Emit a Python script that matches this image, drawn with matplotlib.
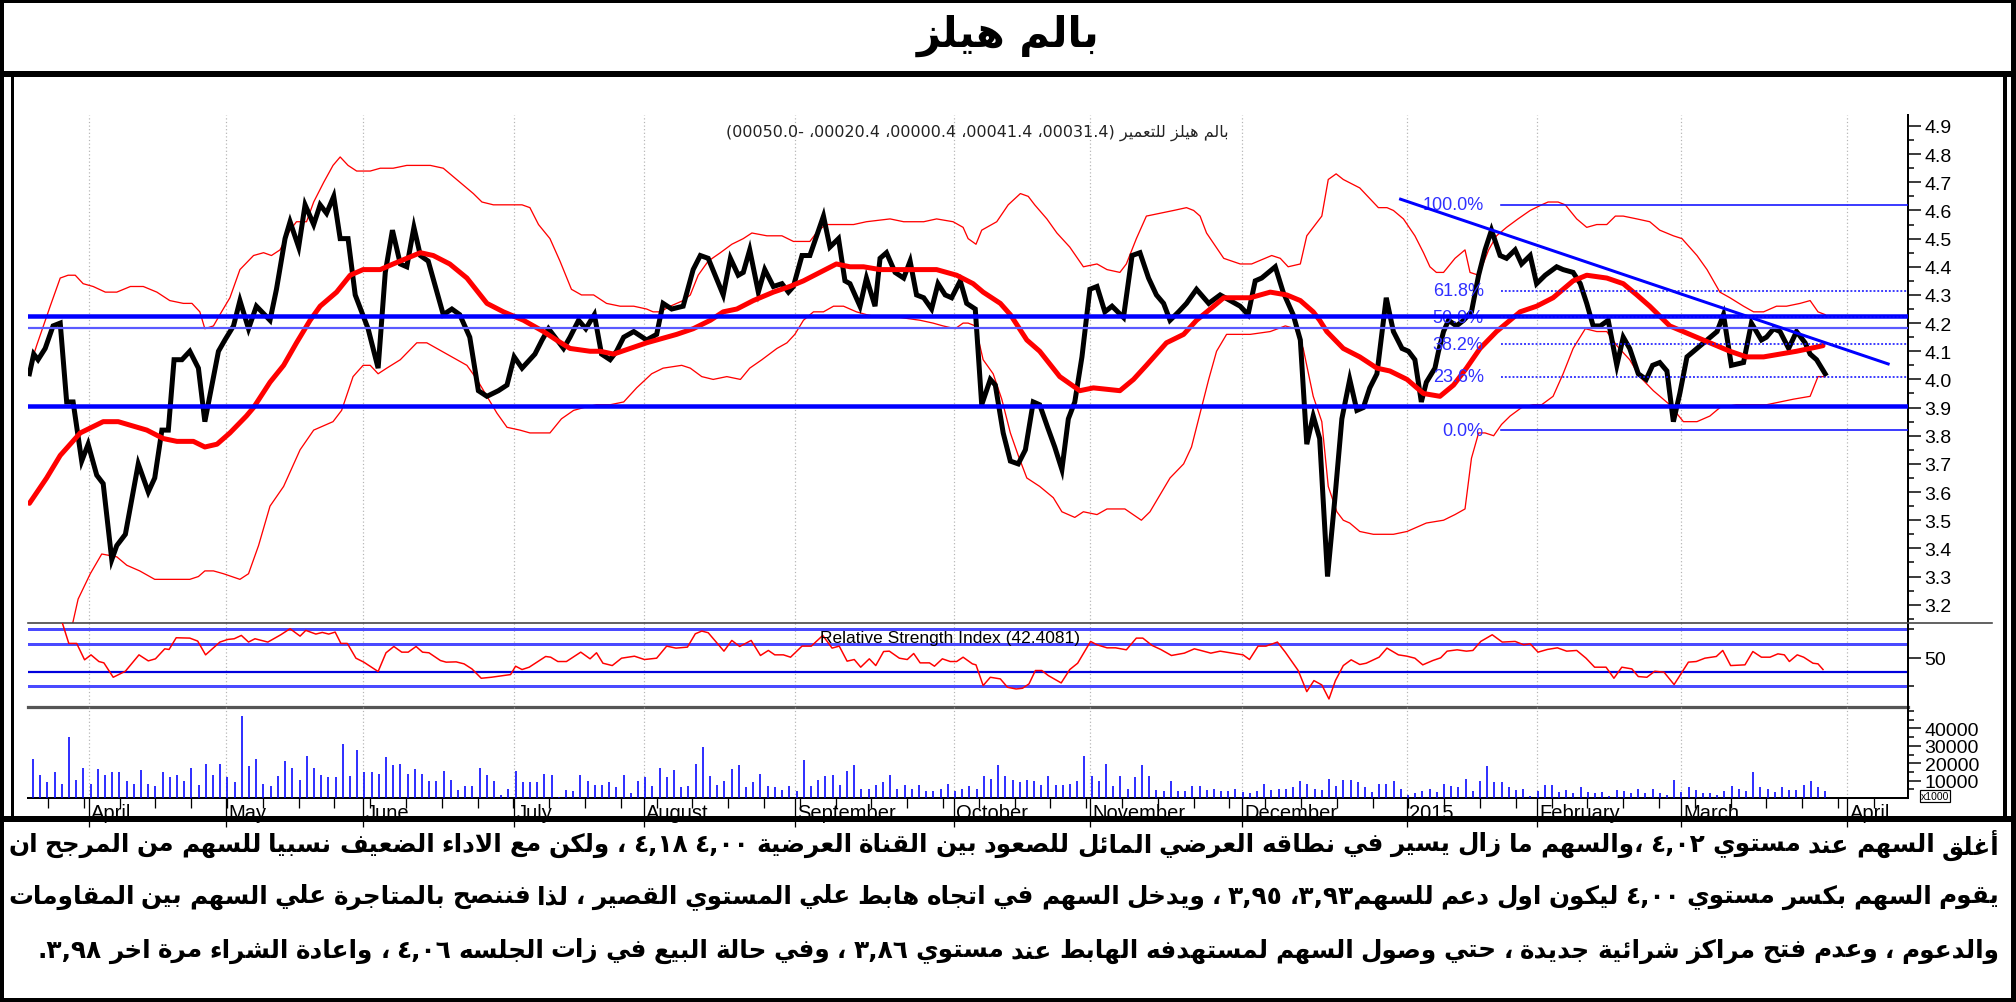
import numpy as np
import matplotlib
matplotlib.use("Agg")
import matplotlib.pyplot as plt
import matplotlib.transforms as mtransforms
from matplotlib.lines import Line2D

# ======================= DATA =======================
# x unit: trading-day index (0 = first session shown, late March 2014)
price_day = [0.2, 0.8, 1.4, 2.4, 3.5, 4.5, 5.4, 6.3, 7.5, 8.4, 9.6, 10.5, 11.7, 12.4, 13.6, 15.4, 16.8, 17.7,
             18.7, 19.6, 20.4, 21.5, 22.6, 23.8, 24.7, 26.6, 27.5, 28.7, 29.6, 30.8, 31.9, 33.8, 34.7, 35.9,
             36.6, 37.8, 38.7, 39.9, 40.8, 41.7, 42.7, 43.6, 44.7, 45.7, 47.5, 48.9, 49.9, 50.9, 52.0, 52.9,
             53.9, 54.8, 55.9, 58.0, 59.2, 60.3, 61.7, 62.9, 64.1,
             65.7, 66.9, 67.9, 69.0, 70.8, 71.8, 72.7, 73.6, 74.8, 75.7, 76.9, 77.9, 79.1, 80.1, 81.3, 82.2,
             83.2, 84.6, 86.4, 87.8, 88.7, 89.9, 91.5, 92.9, 93.9, 95.0, 97.1, 98.1, 99.2, 99.9, 100.8, 102.0,
             102.9, 104.1, 105.3, 106.2, 106.9, 108.1, 109.2, 111.1, 112.0, 113.2, 114.1, 114.8, 116.2, 117.1,
             118.3, 119.0, 119.9, 121.1, 122.3, 123.2, 124.1, 125.1, 126.2, 127.1, 128.1, 129.0, 130.2,
             131.1, 132.3, 133.2, 134.4, 135.1, 136.2, 137.2, 138.3, 139.3, 140.4, 141.3, 142.4, 143.4, 144.4,
             145.3, 146.2, 147.2, 148.3, 149.3, 150.4, 151.4, 153.0, 154.2, 155.3, 156.5, 157.6, 158.6, 159.5,
             160.7, 161.8, 163.2, 164.9, 166.5, 167.9, 169.3, 170.4, 171.4, 172.3, 174.2, 175.3, 176.7, 177.7,
             178.6, 179.5, 180.4, 181.5, 182.5, 183.5, 184.6, 185.6, 186.5, 187.4, 188.4, 189.7, 190.7, 191.9,
             192.8, 193.7, 194.6, 195.3,
             196.5, 197.0, 197.7, 198.4, 199.5, 200.5, 201.6, 202.6, 203.5, 204.4, 205.6, 206.5, 207.7, 208.6,
             209.8, 210.7, 211.9, 213.5, 214.4, 215.8, 216.8, 217.7, 218.6, 219.6, 220.7, 221.9, 222.8, 223.7,
             224.9, 226.0, 226.9, 227.9, 228.9, 229.8, 230.7, 231.7, 233.1, 234.5, 235.9, 236.8, 237.9, 239.6,
             240.7, 242.1, 242.8, 243.8, 244.7, 245.9, 247.0, 248.2, 248.9, 249.8, 251.0]
price_close = [4.02, 4.09, 4.07, 4.11, 4.19, 4.20, 3.92, 3.92, 3.71, 3.77, 3.66, 3.63, 3.36, 3.41, 3.45, 3.70,
               3.60, 3.65, 3.82, 3.82, 4.07, 4.07, 4.10, 4.04, 3.85, 4.10, 4.14, 4.19, 4.28, 4.18, 4.26, 4.21,
               4.32, 4.50, 4.56, 4.47, 4.62, 4.55, 4.62, 4.59, 4.65, 4.50, 4.50, 4.30, 4.18, 4.04, 4.38, 4.53,
               4.41, 4.40, 4.54, 4.44, 4.42, 4.23, 4.25, 4.23, 4.15, 3.96, 3.94,
               3.96, 3.98, 4.08, 4.04, 4.09, 4.14, 4.18, 4.15, 4.11, 4.15, 4.21, 4.18, 4.23, 4.09, 4.07, 4.10,
               4.15, 4.17, 4.14, 4.16, 4.27, 4.25, 4.26, 4.39, 4.44, 4.43, 4.30, 4.43, 4.37, 4.38, 4.46, 4.31,
               4.39, 4.33, 4.34, 4.31, 4.33, 4.44, 4.44, 4.58, 4.47, 4.50, 4.35, 4.34, 4.26, 4.36, 4.26, 4.43,
               4.45, 4.38, 4.36, 4.42, 4.30, 4.29, 4.25, 4.34, 4.30, 4.29, 4.35,
               4.27, 4.25, 3.91, 4.00, 3.98, 3.81, 3.71, 3.70, 3.75, 3.92, 3.91, 3.83, 3.76, 3.68, 3.86, 3.92,
               4.08, 4.32, 4.33, 4.24, 4.26, 4.22, 4.44, 4.45, 4.36, 4.30, 4.27, 4.21, 4.24, 4.27, 4.32, 4.27,
               4.30, 4.28, 4.26, 4.23, 4.35, 4.36, 4.40, 4.31, 4.23, 4.14, 3.77, 3.87, 3.79, 3.30, 3.57, 3.86,
               4.00, 3.89, 3.90, 3.97, 4.02, 4.29, 4.17, 4.11, 4.10, 4.07, 3.92, 3.99,
               4.04, 4.10, 4.17, 4.21, 4.19, 4.21, 4.24, 4.37, 4.46, 4.53, 4.44, 4.43, 4.46, 4.41, 4.44, 4.34,
               4.37, 4.40, 4.39, 4.38, 4.34, 4.27, 4.19, 4.19, 4.21, 4.05, 4.15, 4.11, 4.02, 4.00, 4.05, 4.06,
               4.03, 3.85, 3.95, 4.08, 4.11, 4.14, 4.17, 4.23, 4.05, 4.06, 4.20, 4.14, 4.15, 4.18, 4.17, 4.11,
               4.17, 4.13, 4.09, 4.07, 4.02]

ma_day = [0.2, 2.6, 4.5, 7.3, 10.5, 12.6, 16.6, 18.9, 20.8, 23.1, 24.7, 26.4, 28.2, 30.5, 31.5, 33.8, 35.7,
          37.5, 39.4, 40.8, 43.1, 45.0, 46.8, 49.2, 51.0, 52.9, 54.8, 56.6, 58.9, 61.3, 64.1,
          66.4, 69.2, 72.0, 73.8, 75.7, 78.5, 79.9, 81.8, 84.1, 86.4, 87.8, 90.6, 92.9, 95.3, 97.1, 99.0,
          101.3, 104.1, 106.4, 108.3, 110.6, 112.9, 114.8, 116.7, 119.0, 121.3, 124.1, 126.9, 129.7,
          132.0, 133.4, 135.8, 137.2, 139.5, 141.3, 144.1, 146.9, 148.8, 152.5, 154.4, 156.2, 159.0, 161.4,
          163.2, 165.6, 167.0, 170.7, 173.5, 175.8, 177.7, 179.5, 180.4, 181.4, 183.7, 186.0, 188.4, 190.2,
          192.6, 194.9,
          197.2, 199.1, 200.9, 202.8, 205.1, 208.4, 210.7, 213.0, 215.8, 217.7, 220.5, 222.8, 224.7, 226.5,
          229.3, 232.1, 234.9, 237.7, 240.0, 242.4, 244.7, 247.0, 248.9, 250.7]
ma_val = [3.56, 3.65, 3.73, 3.81, 3.85, 3.85, 3.82, 3.79, 3.78, 3.78, 3.76, 3.77, 3.81, 3.87, 3.90, 3.99, 4.05,
          4.13, 4.21, 4.26, 4.31, 4.37, 4.39, 4.39, 4.41, 4.43, 4.45, 4.44, 4.41, 4.36, 4.27,
          4.24, 4.21, 4.17, 4.14, 4.11, 4.10, 4.10, 4.09, 4.11, 4.13, 4.14, 4.16, 4.18, 4.21, 4.24, 4.25,
          4.28, 4.31, 4.33, 4.35, 4.38, 4.41, 4.40, 4.40, 4.39, 4.39, 4.39, 4.39, 4.37,
          4.34, 4.31, 4.27, 4.23, 4.14, 4.10, 4.01, 3.96, 3.97, 3.96, 4.00, 4.05, 4.13, 4.16,
          4.21, 4.26, 4.29, 4.29, 4.31, 4.30, 4.28, 4.24, 4.21, 4.17, 4.11, 4.08, 4.04, 4.03,
          4.00, 3.95,
          3.94, 3.98, 4.04, 4.11, 4.17, 4.24, 4.26, 4.29, 4.35, 4.37, 4.36, 4.34, 4.30, 4.26,
          4.19, 4.16, 4.13, 4.10, 4.08, 4.08, 4.09, 4.10, 4.11, 4.12]

bb_up_day = [0.2, 1.2, 3.1, 4.5, 5.6, 6.6, 7.7, 9.1, 10.8, 12.4, 14.3, 16.1, 18.0, 19.8, 21.7, 22.9, 24.0, 24.7,
             25.9, 26.8, 28.2, 29.6, 31.5, 32.9, 34.0, 35.2, 36.6, 37.5, 38.9, 39.9, 41.3, 42.6, 43.6, 44.7,
             45.9, 47.8, 49.2, 51.0, 52.9, 54.3, 56.2, 58.0, 59.4, 60.8, 62.2, 63.4, 65.0,
             65.9, 67.8, 69.0, 70.1, 71.3, 72.9, 74.3, 75.9, 77.3, 79.0, 80.8, 82.7, 84.6, 86.4, 87.3, 88.3,
             89.7, 91.5, 92.5, 93.6, 95.0, 96.7, 98.3, 99.9, 101.1, 103.2, 105.3, 106.9, 108.3, 109.2, 110.4,
             111.5, 113.4, 115.3, 117.1, 120.4, 122.3, 125.1, 126.9, 129.2, 130.6,
             131.3, 132.4, 133.2, 135.3, 136.9, 138.6, 139.7, 140.6, 142.3, 143.7, 145.5, 147.4, 149.3, 150.7,
             152.5, 153.4, 154.8, 156.2, 158.1, 160.0, 161.8, 162.8, 163.7, 164.6, 167.0, 169.3, 170.9, 173.7,
             174.9, 176.0, 177.7, 178.6, 180.7, 181.6, 182.7, 183.7, 186.0, 188.6, 189.8, 190.7, 192.1, 193.7,
             194.9, 195.8,
             196.7, 197.7, 199.3, 200.7, 201.4, 202.6, 204.0, 205.1, 206.5, 208.1, 209.8, 211.4, 212.3, 213.7,
             214.7, 216.3, 217.7, 219.1, 220.5, 221.7, 222.8, 224.7, 226.5, 227.9, 229.8, 231.0, 233.1, 234.5,
             236.3, 237.7, 239.6, 241.0, 242.4, 244.2, 245.6, 247.5, 248.9, 250.0, 251.0]
bb_up_val = [4.04, 4.12, 4.26, 4.36, 4.37, 4.37, 4.34, 4.33, 4.31, 4.31, 4.33, 4.33, 4.31, 4.28, 4.27, 4.27,
             4.24, 4.18, 4.19, 4.23, 4.29, 4.39, 4.44, 4.45, 4.44, 4.46, 4.53, 4.56, 4.56, 4.63, 4.70, 4.76,
             4.79, 4.76, 4.74, 4.74, 4.75, 4.75, 4.76, 4.76, 4.76, 4.75, 4.72, 4.69, 4.66, 4.63, 4.62,
             4.62, 4.62, 4.62, 4.61, 4.55, 4.50, 4.42, 4.32, 4.30, 4.30, 4.27, 4.26, 4.26, 4.25, 4.24, 4.24,
             4.26, 4.28, 4.30, 4.37, 4.42, 4.45, 4.48, 4.50, 4.52, 4.51, 4.51, 4.49, 4.49, 4.49, 4.53,
             4.55, 4.55, 4.55, 4.56, 4.57, 4.56, 4.56, 4.57, 4.56, 4.54,
             4.50, 4.48, 4.53, 4.56, 4.62, 4.66, 4.65, 4.62, 4.57, 4.52, 4.47, 4.40, 4.41, 4.39,
             4.38, 4.41, 4.50, 4.58, 4.59, 4.60, 4.61, 4.60, 4.58, 4.52, 4.43, 4.41, 4.41, 4.44,
             4.43, 4.40, 4.41, 4.51, 4.58, 4.71, 4.73, 4.71, 4.68, 4.61, 4.61, 4.60, 4.57, 4.51,
             4.45, 4.40,
             4.38, 4.38, 4.43, 4.46, 4.38, 4.37, 4.46, 4.51, 4.54, 4.57, 4.60, 4.62, 4.63, 4.63,
             4.62, 4.57, 4.54, 4.55, 4.55, 4.58, 4.58, 4.57, 4.56, 4.53, 4.51, 4.50, 4.44, 4.39,
             4.31, 4.29, 4.26, 4.24, 4.24, 4.26, 4.26, 4.27, 4.28, 4.24, 4.23]

bb_lo_day = [5.5, 7.0, 8.7, 10.3, 12.4, 13.8, 15.6, 17.7, 19.8, 22.6, 23.8, 24.7, 25.9, 27.3, 29.6, 30.8, 32.2,
             33.8, 35.7, 38.0, 39.9, 42.6, 43.8, 45.4, 46.8, 47.8, 48.9, 50.1, 52.0, 54.3, 55.7, 57.1, 58.5,
             61.3, 62.7, 64.1,
             65.5, 66.9, 68.7, 70.1, 71.5, 72.9, 74.5, 76.2, 77.6, 79.4, 81.3, 83.2, 85.0, 87.1, 88.7, 91.3,
             92.5, 94.1, 95.7, 97.6, 99.5, 100.8, 102.5, 104.6, 106.0, 107.1, 108.3, 109.7, 111.1, 112.5,
             113.9, 115.7, 117.1, 119.0, 121.8, 124.6, 126.4, 127.8, 129.5, 130.6,
             131.3, 132.3, 133.4, 134.8, 136.0, 137.2, 138.3, 139.5, 141.3, 143.2, 144.4, 146.2, 147.4, 149.3,
             150.7, 153.2, 155.5, 156.7, 158.1, 159.5, 161.4, 162.5, 163.7, 164.9, 166.0, 167.4, 169.3, 170.7,
             173.5, 175.6, 177.0, 178.1, 179.5, 180.7, 181.6, 182.8, 183.7, 184.6, 186.0, 187.9, 190.7, 192.6,
             195.3,
             197.7, 199.3, 200.7, 201.6, 202.6, 203.5, 204.7, 205.8, 207.0, 208.6, 210.2, 211.4, 213.0, 214.4,
             215.8, 217.5, 219.1, 220.5, 221.9, 223.7, 225.1, 227.0, 229.3, 231.2, 233.1, 234.9, 236.3, 238.6,
             241.0, 242.8, 244.7, 246.6, 248.9, 250.0, 251.0]
bb_lo_val = [3.05, 3.22, 3.31, 3.38, 3.37, 3.34, 3.32, 3.29, 3.29, 3.29, 3.30, 3.32, 3.32, 3.31, 3.29, 3.31,
             3.41, 3.55, 3.62, 3.75, 3.82, 3.85, 3.89, 4.01, 4.05, 4.05, 4.02, 4.04, 4.07, 4.13, 4.13, 4.11,
             4.09, 4.05, 4.00, 3.94,
             3.88, 3.83, 3.82, 3.81, 3.81, 3.81, 3.86, 3.89, 3.90, 3.91, 3.91, 3.92, 3.97, 4.02, 4.04, 4.05,
             4.04, 4.01, 4.00, 4.01, 4.00, 4.04, 4.07, 4.11, 4.13, 4.16, 4.21, 4.24, 4.24, 4.26,
             4.26, 4.24, 4.23, 4.22, 4.22, 4.21, 4.20, 4.19, 4.18, 4.20,
             4.20, 4.19, 4.07, 4.02, 3.93, 3.81, 3.73, 3.65, 3.62, 3.58, 3.53, 3.51, 3.53, 3.52,
             3.54, 3.54, 3.50, 3.53, 3.59, 3.65, 3.70, 3.76, 3.88, 4.00, 4.10, 4.16, 4.16, 4.16,
             4.17, 4.19, 4.18, 4.11, 3.94, 3.85, 3.62, 3.53, 3.50, 3.49, 3.46, 3.45, 3.45, 3.46,
             3.49,
             3.50, 3.52, 3.54, 3.72, 3.81, 3.81, 3.80, 3.84, 3.87, 3.90, 3.91, 3.91, 3.94, 4.02,
             4.11, 4.18, 4.17, 4.17, 4.12, 4.07, 4.01, 3.96, 3.91, 3.85, 3.85, 3.87, 3.90, 3.91,
             3.91, 3.91, 3.92, 3.93, 3.94, 4.01, 4.01]

rsi_day = [4.8, 5.7, 6.8, 7.9, 8.8, 9.9, 10.6, 11.9, 13.6, 15.5, 16.8, 17.8, 19.1, 19.7, 20.7, 22.6, 23.7, 24.8,
           26.8, 27.9, 28.8, 29.8, 30.8, 31.7, 33.5, 35.3, 36.6, 38.0, 38.8, 40.2, 41.1, 42.0, 42.9, 43.7, 44.6,
           45.8, 46.9, 48.9, 50.0, 51.1, 52.2, 53.1, 54.2, 55.1, 56.0, 57.6, 58.4, 59.8, 60.9, 62.0, 63.3, 64.7,
           67.4, 68.1, 69.0, 70.0, 72.3, 73.0, 74.0, 75.2, 77.2, 78.5, 79.4, 80.3, 81.6, 82.9, 84.7, 86.1, 87.8,
           89.2, 90.5, 92.1, 93.2, 94.1, 95.0, 97.2, 98.3, 99.4, 101.0, 102.3, 103.4, 104.3, 105.5, 106.5,
           108.1, 109.4, 111.0, 112.3, 113.3, 114.4, 115.4, 116.3, 117.5, 118.4, 119.5, 120.3, 121.7, 122.8,
           123.7, 124.6, 125.9, 126.6, 127.7, 128.8, 129.7, 130.6, 131.9, 132.4, 133.4, 134.4, 135.8,
           136.8, 138.0, 138.9, 139.8, 140.7, 141.6, 142.5, 144.3, 145.5, 146.6, 148.4, 149.3, 150.7, 151.9,
           153.4, 154.8, 155.7, 157.0, 158.2, 159.7, 161.5, 162.9, 163.8, 165.2, 166.5, 167.9, 169.7, 170.6,
           171.8, 172.9, 174.5, 175.6, 177.4, 178.6, 179.6, 180.7, 181.7, 182.6, 183.7, 184.8, 186.0, 186.9,
           188.7, 189.8, 191.4, 192.6, 193.7, 194.8, 196.2, 197.3, 198.2, 199.6, 200.9, 201.8, 202.9, 204.5,
           205.9, 207.7, 208.9, 209.8, 210.9, 212.2, 213.6, 214.9, 216.3, 217.6, 218.8, 220.4, 221.5, 222.6,
           224.0, 224.9, 226.1, 227.2, 228.5, 229.9, 231.9, 233.0, 234.2, 235.8, 236.7, 237.8, 239.8, 240.9,
           242.1, 243.3, 244.4, 245.3, 246.0, 247.1, 248.0, 249.3, 250.0, 250.7]
rsi_val = [99.0, 70.3, 70.3, 47.2, 54.2, 44.8, 42.9, 22.6, 31.1, 54.2, 45.7, 48.6, 62.7, 61.8, 78.3, 77.8, 73.6,
           54.2, 72.2, 75.9, 76.9, 81.6, 72.2, 76.9, 72.2, 82.5, 91.0, 80.6, 88.7, 83.5, 85.8, 83.5, 86.3, 70.3,
           70.3, 49.5, 43.9, 30.7, 57.1, 66.0, 58.0, 58.0, 66.0, 58.0, 57.1, 46.2, 43.9, 44.3, 41.5, 34.4, 21.2,
           22.6, 26.4, 38.2, 33.5, 36.8, 51.9, 50.9, 44.8, 44.8, 58.0, 48.6, 57.1, 42.4, 39.1, 49.5, 52.3, 47.6,
           49.5, 66.5, 63.7, 65.1, 83.9, 87.7, 85.4, 59.4, 74.5, 66.0, 74.5, 53.3, 60.4, 54.2, 54.2, 50.9,
           66.5, 66.5, 81.6, 63.7, 66.5, 45.3, 47.6, 36.8, 48.6, 39.1, 58.9, 59.4, 49.5, 47.6,
           56.1, 42.9, 42.9, 38.2, 48.6, 44.8, 44.8, 50.9, 41.5, 40.1, 10.9, 22.6, 20.3,
           8.5, 6.1, 7.1, 13.2, 32.1, 32.1, 25.0, 14.6, 33.5, 42.4, 73.1, 68.4, 64.1, 64.1,
           61.3, 77.8, 77.8, 67.4, 61.8, 53.3, 56.6, 62.7, 60.4, 56.6, 59.4, 57.1, 54.2, 47.6,
           66.5, 66.5, 72.2, 58.0, 32.1, 2.4, 17.9, 11.8, -8.0, 17.9, 39.1, 47.2, 40.6, 42.4,
           50.9, 63.7, 54.2, 52.3, 49.5, 40.1, 46.2, 50.0, 59.4, 61.3, 59.4, 60.4, 73.1, 82.5,
           72.2, 73.1, 68.4, 69.8, 58.0, 61.8, 64.1, 59.4, 60.4, 49.5, 36.8, 36.8, 21.2, 36.8,
           34.4, 23.6, 22.6, 31.1, 29.7, 12.3, 43.9, 44.8, 49.5, 51.9, 60.4, 39.1, 40.1, 58.9,
           50.9, 50.9, 55.6, 54.2, 44.8, 54.2, 50.9, 42.4, 41.5, 33.5]

# daily volume (x1000 shares), one bar per session
vol_a = [22600, 13400, 9000, 14800, 8200, 34900, 10500, 17400, 8200, 16900, 13400, 14800, 14800, 9800, 8200,
         16100, 8200, 7100, 14800, 11900, 13400, 9800, 17400, 7700, 19700, 13400, 19700, 11900, 9000, 47300,
         18200, 22600, 8200, 7100, 12600, 21100, 17400, 10500, 24000, 17400, 13400, 11900, 11900, 31000,
         12600, 27600, 14800, 14800, 14000, 23400, 19000, 19700, 14000, 16900, 14000, 9800, 9800, 15500,
         10500, 4800, 7100, 7100, 17400, 13400, 9800, 1900, 5400, 15500, 9000, 9000, 9000, 14000, 13400, 600,
         4800, 4000, 13400, 9800, 7700, 7700, 9000, 6100, 13400, 2700, 9800, 11900, 7100, 17400, 11900,
         16100, 6100, 7100, 19700, 29100, 12600, 7700, 9800, 16900, 19000, 6100, 9000, 14000, 6700, 6100,
         4800, 6700, 4000, 21800, 7100, 10500, 12600, 13400, 7700, 15500, 19000, 5400, 5400, 7700, 9000,
         13400, 5400, 7700, 5400, 7700, 4000, 4000, 5400, 8200, 4000, 5400, 6700, 5400, 12600, 11100, 19000]
vol_b = [12800, 10500, 9000, 10500, 9800, 7700, 12800, 7700, 7700, 8200, 9800, 24000, 12800, 9800, 19700,
         7100, 12800, 5400, 11900, 19200, 12800, 4800, 4000, 9800, 4000, 4000, 7100, 7100, 4800, 5400, 4000,
         4000, 5400, 3300, 2700, 4000, 8200, 4800, 5400, 5400, 6100, 9800, 8200, 5400, 4800, 11100, 7100,
         10500, 10500, 9000, 6100, 3300, 8200, 8200, 9800, 5400, 1900, 2700, 4000, 5400, 3300, 8200, 6700,
         6100, 11100, 4000, 9800, 18200, 9000, 9000, 6100, 4800, 5400, 1300, 4000, 7700, 7700, 3300, 4800,
         2700, 6100, 3300, 2700, 3300, 1300, 4800, 4000, 2700, 5400, 2700, 5400, 2700, 1900, 10500, 3300,
         6100, 4800, 2700, 2700, 1900, 4000, 7100, 5400, 4000, 14800, 6100, 5400, 3300, 6100, 4800, 4800,
         7700, 9800, 6100, 4000]
vol_a_days = (0.7, 135.5)     # first / last session of each volume block
vol_b_days = (136.5, 251.0)

month_day = [8.5, 27.7, 46.8, 67.9, 86.0, 107.1, 129.3, 148.3, 169.6, 192.6, 210.8, 230.9, 254.1]
month_label = ["April", "May", "June", "July", "August", "September", "October", "November",
               "December", "2015", "February", "March", "April"]

price_ticks = [3.2, 3.3, 3.4, 3.5, 3.6, 3.7, 3.8, 3.9, 4.0, 4.1, 4.2, 4.3, 4.4, 4.5, 4.6, 4.7, 4.8, 4.9]
resistance_thick = [4.226, 3.904]
resistance_thin = [4.183]
trend_day = [191.7, 259.8]
trend_val = [4.64, 4.055]
fib_high, fib_low = 4.62, 3.82
fib_ratios = [1.0, 0.618, 0.5, 0.382, 0.236, 0.0]
fib_names = ["100.0%", "61.8%", "50.0%", "38.2%", "23.6%", "0.0%"]
fib_start_day = 205.7
rsi_levels = [90, 70, 30, 10]
rsi_last = "42.4081"
vol_ticks = [10000, 20000, 30000, 40000]

title_text = "بالم هيلز"
header_name = "بالم هيلز للتعمير"
header_numbers = "(00050.0- ،00020.4 ،00000.4 ،00041.4 ،00031.4)"
body_lines = [
    "أغلق السهم عند مستوي ٤,٠٢ ،والسهم ما زال يسير في نطاقه العرضي المائل للصعود بين القناة العرضية ٤,٠٠ ٤,١٨ ، ولكن مع الاداء الضعيف نسبيا للسهم من المرجح ان",
    "يقوم السهم بكسر مستوي ٤,٠٠ ليكون اول دعم للسهم٣,٩٣، ٣,٩٥ ، ويدخل السهم في اتجاه هابط علي المستوي القصير ، لذا فننصح بالمتاجرة علي السهم بين المقاومات",
    "والدعوم ، وعدم فتح مراكز شرائية جديدة ، حتي وصول السهم لمستهدفه الهابط عند مستوي ٣,٨٦ ، وفي حالة البيع في زات الجلسه ٤,٠٦ ، واعادة الشراء مرة اخر ٣,٩٨.",
]

# ======================= Arabic shaping / visual order =======================
DUAL = {0x0626: 0xFE89, 0x0628: 0xFE8F, 0x062A: 0xFE95, 0x062B: 0xFE99, 0x062C: 0xFE9D, 0x062D: 0xFEA1,
        0x062E: 0xFEA5, 0x0633: 0xFEB1, 0x0634: 0xFEB5, 0x0635: 0xFEB9, 0x0636: 0xFEBD, 0x0637: 0xFEC1,
        0x0638: 0xFEC5, 0x0639: 0xFEC9, 0x063A: 0xFECD, 0x0641: 0xFED1, 0x0642: 0xFED5, 0x0643: 0xFED9,
        0x0644: 0xFEDD, 0x0645: 0xFEE1, 0x0646: 0xFEE5, 0x0647: 0xFEE9, 0x064A: 0xFEF1}
RIGHT = {0x0622: 0xFE81, 0x0623: 0xFE83, 0x0624: 0xFE85, 0x0625: 0xFE87, 0x0627: 0xFE8D, 0x0629: 0xFE93,
         0x062F: 0xFEA9, 0x0630: 0xFEAB, 0x0631: 0xFEAD, 0x0632: 0xFEAF, 0x0648: 0xFEED, 0x0649: 0xFEEF}
LAMALEF = {0x0622: 0xFEF5, 0x0623: 0xFEF7, 0x0625: 0xFEF9, 0x0627: 0xFEFB}


def shape(s):
    items = []
    i = 0
    while i < len(s):
        c = s[i]
        if ord(c) == 0x0644 and i + 1 < len(s) and ord(s[i + 1]) in LAMALEF:
            items.append(("LA", s[i + 1]))
            i += 2
        else:
            items.append(("C", c))
            i += 1

    def jt(it):
        k, c = it
        if k == "LA":
            return "R"
        o = ord(c)
        if o in DUAL or o == 0x0640:
            return "D"
        if o in RIGHT:
            return "R"
        return "U"

    out = []
    for k, it in enumerate(items):
        t = jt(it)
        pt = jt(items[k - 1]) if k > 0 else "U"
        nt = jt(items[k + 1]) if k + 1 < len(items) else "U"
        jp = t in "DR" and pt == "D"
        jn = t == "D" and nt in "DR"
        kind, c = it
        if kind == "LA":
            out.append(chr(LAMALEF[ord(c)] + (1 if jp else 0)))
            continue
        o = ord(c)
        if o in DUAL:
            b = DUAL[o]
            out.append(chr(b + 3) if (jp and jn) else chr(b + 1) if jp else chr(b + 2) if jn else chr(b))
        elif o in RIGHT:
            b = RIGHT[o]
            out.append(chr(b + 1) if jp else chr(b))
        elif o == 0x0621:
            out.append("\uFE80")
        else:
            out.append(c)
    return "".join(out)


DIGITS = set("0123456789٠١٢٣٤٥٦٧٨٩")
SEPS = set(",.٫٬")
MIRROR = {"(": ")", ")": "("}


def visual(s):
    s = shape(s)
    toks = []
    i = 0
    while i < len(s):
        c = s[i]
        if c in DIGITS:
            j = i
            while j < len(s) and (s[j] in DIGITS or (s[j] in SEPS and j + 1 < len(s) and s[j + 1] in DIGITS)):
                j += 1
            toks.append(s[i:j])
            i = j
        else:
            toks.append(MIRROR.get(c, c))
            i += 1
    return "".join(reversed(toks))


# ======================= FIGURE =======================
W, H = 2016, 1003
plt.rcParams["font.family"] = ["Liberation Sans", "DejaVu Sans"]
fig = plt.figure(figsize=(W / 100, H / 100), dpi=100)
fig.patch.set_facecolor("white")


def px(v):  # pixels -> points
    return v * 72.0 / 100.0


def add_axes_px(left, top, right, bottom):
    return fig.add_axes([left / W, 1 - bottom / H, (right - left) / W, (bottom - top) / H])


X0, X1 = 28, 1908
ax_p = add_axes_px(X0, 116, X1, 624)
ax_r = add_axes_px(X0, 624, X1, 707.7)
ax_v = add_axes_px(X0, 707.7, X1, 799)
XLIM = (0, (X1 - X0) / 7.16)

for ax in (ax_p, ax_r, ax_v):
    ax.set_xlim(*XLIM)
    ax.set_facecolor("none")
    for sp in ("left", "top", "bottom"):
        ax.spines[sp].set_visible(False)
    ax.spines["right"].set_linewidth(px(2))
    ax.yaxis.tick_right()
    ax.tick_params(axis="x", which="both", bottom=False, labelbottom=False)
    for d in month_day:
        ax.axvline(d, color="#b4b4b4", lw=px(1.2), ls=(0, (1, 2)), zorder=0)

# ---- price panel ----
ax_p.set_ylim(3.135, 4.939)
ax_p.plot(bb_up_day, bb_up_val, color="#ff0000", lw=px(1.3), zorder=2)
ax_p.plot(bb_lo_day, bb_lo_val, color="#ff0000", lw=px(1.3), zorder=2)
ax_p.plot(price_day, price_close, color="black", lw=px(5), solid_joinstyle="miter", zorder=3)
ax_p.plot(ma_day, ma_val, color="#ff0000", lw=px(5), solid_capstyle="round", zorder=4)
for v in resistance_thick:
    ax_p.axhline(v, color="#0000ff", lw=px(4.5), zorder=5)
for v in resistance_thin:
    ax_p.axhline(v, color="#5a5aff", lw=px(2.2), zorder=5)
ax_p.plot(trend_day, trend_val, color="#0000ff", lw=px(3), zorder=5)
for r, name in zip(fib_ratios, fib_names):
    lvl = fib_low + r * (fib_high - fib_low)
    ls = "-" if r in (0.0, 1.0) else (0, (1.2, 1.2))
    ax_p.plot([fib_start_day, XLIM[1]], [lvl, lvl], color="#1010ff", lw=px(1.6), ls=ls, zorder=5)
    ax_p.text(fib_start_day - 2.4, lvl, name, color="#3030ff", fontsize=13, ha="right", va="center",
              zorder=4)
ax_p.set_yticks(price_ticks)
ax_p.set_yticklabels([f"{t:.1f}" for t in price_ticks])
ax_p.set_yticks([t + 0.05 for t in price_ticks[:-1]] + [3.15], minor=True)
ax_p.tick_params(axis="y", which="major", length=9, width=px(1.5), pad=3, labelsize=14)
ax_p.tick_params(axis="y", which="minor", length=4, width=px(1.5))

header = header_numbers + " " + visual(header_name)
ax_p.text(0.505, 0.967, header, transform=ax_p.transAxes, fontsize=11.5, color="#222222",
          family=["DejaVu Sans"], ha="center", va="center")

# ---- RSI panel ----
ax_r.set_ylim(-18.9, 99.1)
ax_r.spines["top"].set_visible(True)
ax_r.spines["top"].set_color("#404040")
ax_r.spines["top"].set_linewidth(px(1.6))
ax_r.spines["bottom"].set_visible(True)
ax_r.spines["bottom"].set_color("#555555")
ax_r.spines["bottom"].set_linewidth(px(3.2))
for lv in rsi_levels:
    col, w = ("#0000dd", 2.2) if lv == 30 else ("#4a4aff", 3)
    ax_r.axhline(lv, color=col, lw=px(w), zorder=2)
ax_r.plot(rsi_day, rsi_val, color="#ff0000", lw=px(1.5), zorder=3)
ax_r.text(128.8, 79.0, f"Relative Strength Index ({rsi_last})", fontsize=12.5, ha="center", va="center",
          zorder=4)
ax_r.set_yticks([50])
ax_r.set_yticklabels(["50"])
ax_r.set_yticks([10, 90], minor=True)
ax_r.tick_params(axis="y", which="major", length=9, width=px(1.5), pad=3, labelsize=14)
ax_r.tick_params(axis="y", which="minor", length=4, width=px(1.5))
fig.add_artist(Line2D([X1 / W, 1992 / W], [1 - 624.3 / H, 1 - 624.3 / H], color="#404040", lw=px(1.6)))

# ---- volume panel ----
ax_v.set_ylim(0, 52500)
days_a = np.linspace(vol_a_days[0], vol_a_days[1], len(vol_a))
days_b = np.linspace(vol_b_days[0], vol_b_days[1], len(vol_b))
ax_v.vlines(np.concatenate([days_a, days_b]), 0, np.array(vol_a + vol_b), color="#0000ff", lw=px(1.6),
            zorder=3)
ax_v.spines["bottom"].set_visible(True)
ax_v.spines["bottom"].set_linewidth(px(2))
ax_v.set_yticks(vol_ticks)
ax_v.set_yticklabels([str(t) for t in vol_ticks])
ax_v.set_yticks([5000, 15000, 25000, 35000, 45000, 50000], minor=True)
ax_v.tick_params(axis="y", which="major", length=9, width=px(1.5), pad=3, labelsize=14)
ax_v.tick_params(axis="y", which="minor", length=4, width=px(1.5))
ax_v.tick_params(axis="x", which="major", bottom=True, length=21, width=px(1.3), direction="out")
ax_v.tick_params(axis="x", which="minor", bottom=True, length=7, width=px(1.3), direction="out")
ax_v.set_xticks(month_day)
ax_v.set_xticks(np.arange(2.8, XLIM[1], 5.0), minor=True)
trans = mtransforms.blended_transform_factory(ax_v.transData, ax_v.transAxes)
for d, lab in zip(month_day, month_label):
    ax_v.text(d + 0.3, -0.06, lab, transform=trans, fontsize=14.5, ha="left", va="top")
fig.text(1935 / W, 1 - 797 / H, "x1000", fontsize=7.5, ha="center", va="center",
         bbox=dict(boxstyle="square,pad=0.12", fc="white", ec="black", lw=px(1.2)), zorder=10)

# ---- frames ----
def hline(y, x0, x1, w):
    fig.add_artist(Line2D([x0 / W, x1 / W], [1 - y / H, 1 - y / H], color="black", lw=px(w)))


def vline(x, y0, y1, w):
    fig.add_artist(Line2D([x / W, x / W], [1 - y0 / H, 1 - y1 / H], color="black", lw=px(w)))


hline(2, 0, W, 4)
hline(H - 2, 0, W, 4)
vline(2, 0, H, 4)
vline(W - 3, 0, H, 5)
hline(75, 0, W, 6)
hline(820, 0, W, 6)
vline(12, 75, 820, 3)
vline(2005, 75, 820, 4)

# ---- title ----
fig.text(1008 / W, 1 - 36 / H, visual(title_text), fontsize=30, fontweight="bold",
         family=["DejaVu Sans"], ha="center", va="center")

# ---- body text (justified, right-to-left) ----
fig.canvas.draw()
rend = fig.canvas.get_renderer()
FS0 = 20.0


def width_of(s, fs):
    t = fig.text(0, 0, s, fontsize=fs, fontweight="bold", family=["DejaVu Sans"])
    w = t.get_window_extent(renderer=rend).width
    t.remove()
    return w


left_px, right_px = 8, 1999
avail = right_px - left_px
space0 = width_of("ا ا", FS0) - width_of("اا", FS0)
vis_lines = [[w for w in visual(L).split(" ") if w] for L in body_lines]
widths0 = [[width_of(w, FS0) for w in words] for words in vis_lines]
nat = [sum(ws) + 0.8 * space0 * (len(ws) - 1) for ws in widths0]
fs = FS0 * min(avail / nat[0], avail / nat[1])
scale = fs / FS0
line_y = [845, 897, 951]
first_gap = None
for k, (words, ws) in enumerate(zip(vis_lines, widths0)):
    ws = [w * scale for w in ws]
    if k < 2:
        gap = (avail - sum(ws)) / (len(ws) - 1)
        if first_gap is None:
            first_gap = gap
        x = left_px
    else:
        gap = min(first_gap, (avail - 30 - sum(ws)) / (len(ws) - 1))
        x = right_px - (sum(ws) + gap * (len(ws) - 1))
    for w, wd in zip(words, ws):
        fig.text(x / W, 1 - line_y[k] / H, w, fontsize=fs, fontweight="bold", family=["DejaVu Sans"],
                 ha="left", va="center")
        x += wd + gap

fig.savefig("out.png", dpi=100)
